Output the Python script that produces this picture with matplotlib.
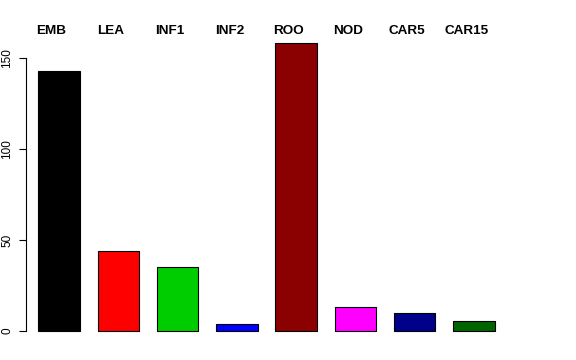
import matplotlib
matplotlib.use("Agg")
import matplotlib.pyplot as plt
import numpy as np

# Counts per tissue class
categories = ["EMB", "LEA", "INF1", "INF2", "ROO", "NOD", "CAR5", "CAR15"]
counts = [143, 44, 35, 4, 158, 13, 10, 5.5]
colors = ["#000000", "#FF0000", "#00CD00", "#0000FF",
          "#8B0000", "#FF00FF", "#00008B", "#006400"]
yticks = [0, 50, 100, 150]

plt.rcParams['font.family'] = ['Liberation Sans', 'DejaVu Sans']

fig = plt.figure(figsize=(5.76, 3.6), dpi=100)
ax = fig.add_axes([26/576, (360-342.5)/360, (550-26)/576, (342.5-32)/360])

# bar centres one unit-ish apart, R style
x = 0.7 + 1.2*np.arange(len(categories))
ax.bar(x, counts, width=0.84, color=colors, edgecolor="black", linewidth=0.8)

ax.set_xlim(0.032, 10.64)
ax.set_ylim(-6.3, 164.3)

for s in ["top", "right", "bottom"]:
    ax.spines[s].set_visible(False)
ax.spines["left"].set_bounds(0, 150)
ax.spines["left"].set_linewidth(0.8)
ax.set_xticks([])
ax.set_yticks(yticks)
ax.set_yticklabels([str(v) for v in yticks], rotation=90, va="center", fontsize=8.5)
ax.tick_params(axis="y", length=5, width=0.8, pad=4)

# names sit above the plot, a bit left of the bars
for xi, name in zip(x - 0.15, categories):
    ax.text(xi, 0.9936, name, transform=ax.get_xaxis_transform(), ha="center",
            va="baseline", fontsize=9.7, fontweight="bold")

fig.savefig("out.png", dpi=100)
